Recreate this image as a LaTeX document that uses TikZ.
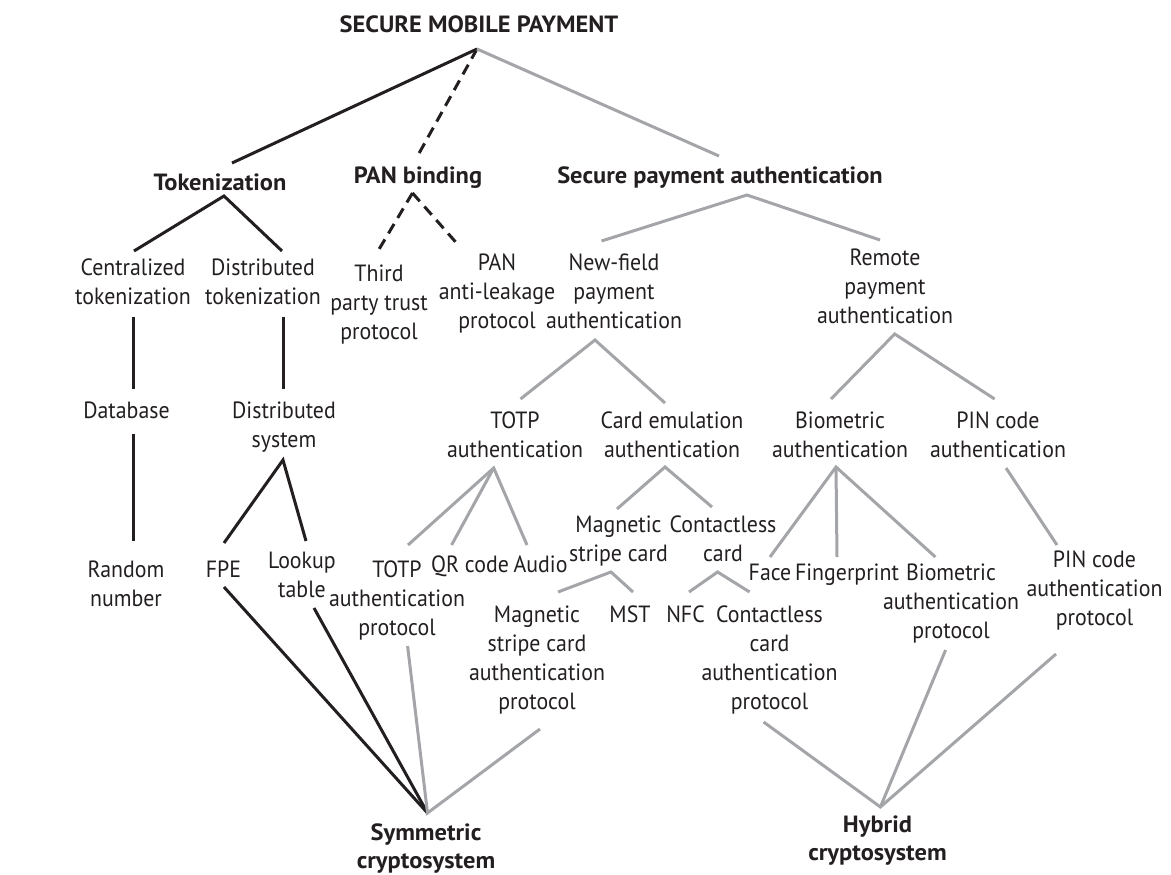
\documentclass[tikz,border=0pt]{standalone}
\usepackage{fontspec}
\setmainfont{PT Sans}[FakeStretch=0.93,BoldFeatures={FakeStretch=1.04}]
\definecolor{ink}{HTML}{231F20}
\definecolor{gr}{HTML}{A3A5A8}
\begin{document}
\begin{tikzpicture}[x=1pt,y=-1pt,
  lbl/.style={anchor=base,inner sep=0pt,align=center,text=ink,font=\fontsize{23.5}{29}\selectfont},
  blbl/.style={lbl,font=\fontsize{23.5}{28}\selectfont\bfseries},
  blk/.style={draw=ink,line width=3pt,line join=miter},
  dsh/.style={blk,dash pattern=on 11pt off 7pt},
  gry/.style={draw=gr,line width=3pt,line join=miter}]
\useasboundingbox (0,0) rectangle (1171,875);
% nodes (anchor = baseline of last line)
\node[blbl] (root) at (479,33) {SECURE MOBILE PAYMENT};
\node[blbl] (tok) at (220,190) {Tokenization};
\node[blbl] (pan) at (418,183) {PAN binding};
\node[blbl] (spa) at (720,183) {Secure payment authentication};
\node[lbl] (cent) at (133,304) {Centralized\\tokenization};
\node[lbl] (dtok) at (263,304) {Distributed\\tokenization};
\node[lbl] (third) at (379,339) {Third\\party trust\\protocol};
\node[lbl] (panl) at (497,328) {PAN\\anti-leakage\\protocol};
\node[lbl] (nf) at (614,328) {New-field\\payment\\authentication};
\node[lbl] (rem) at (885,323) {Remote\\payment\\authentication};
\node[lbl] (db) at (126.5,418) {Database};
\node[lbl] (dsys) at (284,447) {Distributed\\system};
\node[lbl] (totp) at (515,457.5) {TOTP\\authentication};
\node[lbl] (ce) at (672,457.5) {Card emulation\\authentication};
\node[lbl] (bio) at (840,457.5) {Biometric\\authentication};
\node[lbl] (pin) at (998,457.5) {PIN code\\authentication};
\node[lbl] (rnd) at (126,606) {Random\\number};
\node[lbl] (fpe) at (223.5,577) {FPE};
\node[lbl] (lut) at (302,597) {Lookup\\table};
\node[lbl] (totpp) at (397,635) {TOTP\\authentication\\protocol};
\node[lbl] (qr) at (470,572) {QR code};
\node[lbl] (audio) at (540.6,572) {Audio};
\node[lbl] (msc) at (618.5,561) {Magnetic\\stripe card};
\node[lbl] (cc) at (723,561) {Contactless\\card};
\node[lbl] (mscp) at (537,709) {Magnetic\\stripe card\\authentication\\protocol};
\node[lbl] (mst) at (630,622) {MST};
\node[lbl] (nfc) at (685.5,622) {NFC};
\node[lbl] (ccp) at (769.5,709) {Contactless\\card\\authentication\\protocol};
\node[lbl] (face) at (770,580) {Face};
\node[lbl] (fp) at (847,580) {Fingerprint};
\node[lbl] (biop) at (951,638) {Biometric\\authentication\\protocol};
\node[lbl] (pinp) at (1094.5,625) {PIN code\\authentication\\protocol};
\node[blbl] (sym) at (426,868) {Symmetric\\cryptosystem};
\node[blbl] (hyb) at (877.5,860) {Hybrid\\cryptosystem};
% connector points
\coordinate (root-a) at (477,49);
\coordinate (tok-t) at (232,163);
\coordinate (pan-t) at (417,157);
\coordinate (spa-t) at (719,156);
\coordinate (tok-a) at (224,196);
\coordinate (cent-t) at (134,251);
\coordinate (dtok-t) at (282,251);
\coordinate (pan-a) at (412.5,193);
\coordinate (third-t) at (378,251);
\coordinate (panl-t) at (460,247);
\coordinate (spa-a) at (747,195);
\coordinate (nf-t) at (601.5,241);
\coordinate (rem-t) at (880,240);
\coordinate (cent-b) at (133.5,317);
\coordinate (db-t) at (133.5,389);
\coordinate (dtok-b) at (283,317);
\coordinate (dsys-t) at (283,389);
\coordinate (db-b) at (133.5,434);
\coordinate (rnd-t) at (133.5,541);
\coordinate (dsys-a) at (283,460);
\coordinate (fpe-t) at (224,543);
\coordinate (lut-t) at (306,541);
\coordinate (fpe-b) at (224,587);
\coordinate (lut-b) at (314,608);
\coordinate (sym-a) at (427.5,813);
\coordinate (nf-a) at (595,340);
\coordinate (totp-t) at (520.5,399);
\coordinate (ce-t) at (665,403);
\coordinate (rem-a) at (894.7,334);
\coordinate (bio-t) at (831,399);
\coordinate (pin-t) at (994.6,399);
\coordinate (totp-a) at (493.7,468);
\coordinate (totpp-t) at (408,545);
\coordinate (qr-t) at (451.6,545);
\coordinate (audio-t) at (527,545);
\coordinate (ce-a) at (665,467);
\coordinate (msc-t) at (617,509);
\coordinate (cc-t) at (712,507);
\coordinate (bio-a) at (836,467);
\coordinate (face-t) at (770,557);
\coordinate (fp-t) at (837,557);
\coordinate (biop-t) at (935.4,557);
\coordinate (pin-b) at (1006,468);
\coordinate (pinp-t) at (1057,545);
\coordinate (msc-a) at (611,572);
\coordinate (mscp-t) at (558,592);
\coordinate (mst-t) at (633,592);
\coordinate (cc-a) at (717.6,572);
\coordinate (nfc-t) at (689,592);
\coordinate (ccp-t) at (749.6,592);
\coordinate (totpp-b) at (407.6,646);
\coordinate (mscp-b) at (540,729);
\coordinate (hyb-a) at (880.4,807);
\coordinate (ccp-b) at (763.6,722);
\coordinate (biop-b) at (945.6,650);
\coordinate (pinp-b) at (1056,654);
% black connectors
\draw[blk] (tok-t) -- (root-a);
\draw[dsh] (root-a) -- (pan-t);
\draw[gry] (root-a) -- (spa-t);
\draw[blk] (cent-t) -- (tok-a) -- (dtok-t);
\draw[dsh] (pan-a) -- (third-t);
\draw[dsh] (pan-a) -- (panl-t);
\draw[blk] (cent-b) -- (db-t);
\draw[blk] (dtok-b) -- (dsys-t);
\draw[blk] (db-b) -- (rnd-t);
\draw[blk] (fpe-t) -- (dsys-a) -- (lut-t);
\draw[blk] (fpe-b) -- (sym-a);
\draw[blk] (lut-b) -- (sym-a);
% gray connectors
\draw[gry] (nf-t) -- (spa-a) -- (rem-t);
\draw[gry] (totp-t) -- (nf-a) -- (ce-t);
\draw[gry] (bio-t) -- (rem-a) -- (pin-t);
\draw[gry] (totpp-t) -- (totp-a) -- (audio-t);
\draw[gry] (totp-a) -- (qr-t);
\draw[gry] (msc-t) -- (ce-a) -- (cc-t);
\draw[gry] (face-t) -- (bio-a) -- (biop-t);
\draw[gry] (bio-a) -- (fp-t);
\draw[gry] (pin-b) -- (pinp-t);
\draw[gry] (mscp-t) -- (msc-a) -- (mst-t);
\draw[gry] (nfc-t) -- (cc-a) -- (ccp-t);
\draw[gry] (totpp-b) -- (sym-a) -- (mscp-b);
\draw[gry] (ccp-b) -- (hyb-a) -- (pinp-b);
\draw[gry] (biop-b) -- (hyb-a);
\end{tikzpicture}
\end{document}
